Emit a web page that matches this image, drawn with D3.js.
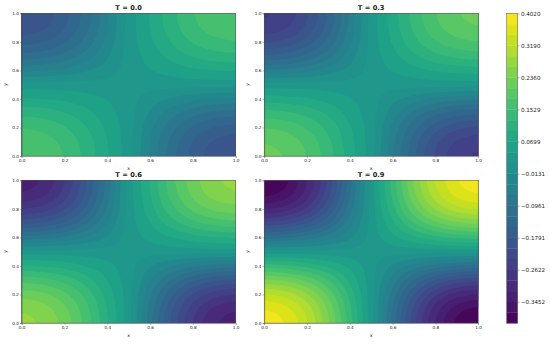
<!DOCTYPE html>
<html>
<head>
<meta charset="utf-8">
<script src="https://cdn.jsdelivr.net/npm/d3@7"></script>
<style>
  html, body { margin: 0; background: #fff; }
  svg { display: block; }
  text { font-family: "DejaVu Sans"; fill: #222; }
  .domain, .tick line { stroke: #444; stroke-width: 0.4; }
</style>
</head>
<body>
<svg id="chart" width="550" height="344"></svg>
<script>
// values, 11 x 11 samples, first row is y = 0
const gridPos = [0, 0.1, 0.2, 0.3, 0.4, 0.5, 0.6, 0.7, 0.8, 0.9, 1]

const fieldT00 = [
  [.180,.172,.151,.116,.073,.025,-.046,-.111,-.161,-.194,-.205],
  [.172,.165,.144,.112,.070,.025,-.042,-.104,-.152,-.182,-.194],
  [.151,.144,.127,.099,.064,.025,-.033,-.085,-.127,-.152,-.161],
  [.116,.112,.099,.079,.053,.025,-.016,-.056,-.085,-.104,-.111],
  [.073,.070,.064,.053,.041,.025,.002,-.016,-.033,-.042,-.046],
  [.025,.025,.025,.025,.025,.025,.025,.025,.025,.025,.025],
  [-.046,-.042,-.033,-.016,.002,.025,.041,.053,.064,.070,.073],
  [-.111,-.104,-.085,-.056,-.016,.025,.053,.079,.099,.112,.116],
  [-.161,-.152,-.127,-.085,-.033,.025,.064,.099,.127,.144,.151],
  [-.194,-.182,-.152,-.104,-.042,.025,.070,.112,.144,.165,.172],
  [-.205,-.194,-.161,-.111,-.046,.025,.073,.116,.151,.172,.180]
]
const fieldT03 = [
  [.215,.206,.179,.137,.084,.025,-.065,-.146,-.210,-.251,-.265],
  [.206,.196,.171,.131,.080,.025,-.059,-.137,-.198,-.236,-.251],
  [.179,.171,.150,.116,.073,.025,-.048,-.114,-.166,-.198,-.210],
  [.137,.131,.116,.092,.059,.025,-.027,-.077,-.114,-.137,-.146],
  [.084,.080,.073,.059,.044,.025,-.004,-.027,-.048,-.059,-.065],
  [.025,.025,.025,.025,.025,.025,.025,.025,.025,.025,.025],
  [-.065,-.059,-.048,-.027,-.004,.025,.044,.059,.073,.080,.084],
  [-.146,-.137,-.114,-.077,-.027,.025,.059,.092,.116,.131,.137],
  [-.210,-.198,-.166,-.114,-.048,.025,.073,.116,.150,.171,.179],
  [-.251,-.236,-.198,-.137,-.059,.025,.080,.131,.171,.196,.206],
  [-.265,-.251,-.210,-.146,-.065,.025,.084,.137,.179,.206,.215]
]
const fieldT06 = [
  [.270,.258,.223,.170,.101,.025,-.085,-.184,-.263,-.312,-.330],
  [.258,.246,.214,.162,.096,.025,-.078,-.174,-.248,-.295,-.312],
  [.223,.214,.187,.143,.086,.025,-.064,-.145,-.209,-.248,-.263],
  [.170,.162,.143,.111,.069,.025,-.039,-.099,-.145,-.174,-.184],
  [.101,.096,.086,.069,.050,.025,-.011,-.039,-.064,-.078,-.085],
  [.025,.025,.025,.025,.025,.025,.025,.025,.025,.025,.025],
  [-.085,-.078,-.064,-.039,-.011,.025,.050,.069,.086,.096,.101],
  [-.184,-.174,-.145,-.099,-.039,.025,.069,.111,.143,.162,.170],
  [-.263,-.248,-.209,-.145,-.064,.025,.086,.143,.187,.214,.223],
  [-.312,-.295,-.248,-.174,-.078,.025,.096,.162,.214,.246,.258],
  [-.330,-.312,-.263,-.184,-.085,.025,.101,.170,.223,.258,.270]
]
const fieldT09 = [
  [.390,.372,.321,.240,.138,.025,-.107,-.226,-.319,-.379,-.400],
  [.372,.354,.306,.229,.131,.025,-.098,-.213,-.302,-.358,-.379],
  [.321,.306,.266,.200,.116,.025,-.081,-.179,-.256,-.302,-.319],
  [.240,.229,.200,.153,.091,.025,-.052,-.124,-.179,-.213,-.226],
  [.138,.131,.116,.091,.062,.025,-.018,-.052,-.081,-.098,-.107],
  [.025,.025,.025,.025,.025,.025,.025,.025,.025,.025,.025],
  [-.107,-.098,-.081,-.052,-.018,.025,.062,.091,.116,.131,.138],
  [-.226,-.213,-.179,-.124,-.052,.025,.091,.153,.200,.229,.240],
  [-.319,-.302,-.256,-.179,-.081,.025,.116,.200,.266,.306,.321],
  [-.379,-.358,-.302,-.213,-.098,.025,.131,.229,.306,.354,.372],
  [-.400,-.379,-.319,-.226,-.107,.025,.138,.240,.321,.372,.390]
]

const panelTitles = ["T = 0.0", "T = 0.3", "T = 0.6", "T = 0.9"]
const panelFields = [fieldT00, fieldT03, fieldT06, fieldT09]
const axisTicks = [0, 0.2, 0.4, 0.6, 0.8, 1]
const barTicks = [0.4020, 0.3190, 0.2360, 0.1529, 0.0699, -0.0131, -0.0961, -0.1791, -0.2622, -0.3452]
const levelMin = -0.4006, levelMax = 0.4020, nLevels = 30

const levels = d3.range(nLevels).map(i => levelMin + i * (levelMax - levelMin) / (nLevels - 1))
const bandColor = k => d3.interpolateViridis((k + 0.5) / (nLevels - 1))

const svg = d3.select("#chart")
const panelW = 214, panelH = 142.8
const lefts = [21.7, 264.2], tops = [13.3, 180.3]

// smooth the samples for contouring, the way a fine mesh would look
const upsample = 10
const n = (gridPos.length - 1) * upsample + 1
function catmull(p0, p1, p2, p3, t) {
  return 0.5 * (2 * p1 + (p2 - p0) * t + (2 * p0 - 5 * p1 + 4 * p2 - p3) * t * t + (3 * p1 - p0 - 3 * p2 + p3) * t * t * t)
}
function fineGrid(f) {
  const m = f.length - 1
  const at = (j, i) => f[Math.max(0, Math.min(m, j))][Math.max(0, Math.min(m, i))]
  const out = new Float64Array(n * n)
  for (let r = 0; r < n; r++) {
    const j = Math.min(m - 1, Math.floor(r / upsample)), v = r / upsample - j
    for (let c = 0; c < n; c++) {
      const i = Math.min(m - 1, Math.floor(c / upsample)), u = c / upsample - i
      const col = [-1, 0, 1, 2].map(d => catmull(at(j + d, i - 1), at(j + d, i), at(j + d, i + 1), at(j + d, i + 2), u))
      out[r * n + c] = catmull(col[0], col[1], col[2], col[3], v)
    }
  }
  return out
}

panelFields.forEach((field, idx) => {
  const left = lefts[idx % 2], top = tops[Math.floor(idx / 2)]
  const x = d3.scaleLinear().domain([0, 1]).range([left, left + panelW])
  const y = d3.scaleLinear().domain([0, 1]).range([top + panelH, top])

  const clipId = "clip" + idx
  svg.append("clipPath").attr("id", clipId).append("rect")
    .attr("x", left).attr("y", top).attr("width", panelW).attr("height", panelH)

  const values = fineGrid(field)
  const contours = d3.contours().size([n, n])
  const path = d3.geoPath(d3.geoTransform({
    point(cx, cy) { this.stream.point(x((cx - 0.5) / (n - 1)), y((cy - 0.5) / (n - 1))) }
  }))

  const g = svg.append("g").attr("clip-path", `url(#${clipId})`)
  g.append("rect").attr("x", left).attr("y", top).attr("width", panelW).attr("height", panelH).attr("fill", bandColor(0))
  d3.range(nLevels - 1).forEach(k => {
    g.append("path").attr("d", path(contours.contour(values, levels[k]))).attr("fill", bandColor(k))
  })

  svg.append("g").attr("transform", `translate(0,${top + panelH})`)
    .call(d3.axisBottom(x).tickValues(axisTicks).tickFormat(d3.format(".1f")).tickSize(1.6).tickPadding(1.2))
    .call(s => s.selectAll("text").style("font-size", "4.2px"))
  svg.append("g").attr("transform", `translate(${left},0)`)
    .call(d3.axisLeft(y).tickValues(axisTicks).tickFormat(d3.format(".1f")).tickSize(1.6).tickPadding(1.2))
    .call(s => s.selectAll("text").style("font-size", "4.2px"))
  svg.append("rect").attr("x", left).attr("y", top).attr("width", panelW).attr("height", panelH)
    .attr("fill", "none").attr("stroke", "#555").attr("stroke-width", 0.5)

  svg.append("text").attr("x", left + panelW / 2).attr("y", top - 3)
    .attr("text-anchor", "middle").style("font-size", "6.7px").style("font-weight", "bold").text(panelTitles[idx])
  svg.append("text").attr("x", left + panelW / 2).attr("y", top + panelH + 13.5)
    .attr("text-anchor", "middle").style("font-size", "4.7px").text("x")
  svg.append("text").attr("transform", `translate(${left - 15.2},${top + panelH / 2}) rotate(-90)`)
    .attr("text-anchor", "middle").style("font-size", "4.7px").text("y")
})

// colour bar
const barX = 506.7, barW = 11
const barY = d3.scaleLinear().domain([levelMin, levelMax]).range([323.1, 13.3])
svg.append("g").selectAll("rect").data(d3.range(nLevels - 1)).join("rect")
  .attr("x", barX).attr("width", barW)
  .attr("y", k => barY(levels[k + 1]))
  .attr("height", k => barY(levels[k]) - barY(levels[k + 1]) + 0.3)
  .attr("fill", k => bandColor(k))
svg.append("g").attr("transform", `translate(${barX + barW},0)`)
  .call(d3.axisRight(barY).tickValues(barTicks).tickFormat(d => d3.format(".4f")(d).replace("-", "\u2212")).tickSize(1.8).tickPadding(1.4))
  .call(s => s.selectAll("text").style("font-size", "5.6px"))
  .call(s => s.select(".domain").remove())
svg.append("rect").attr("x", barX).attr("y", 13.3).attr("width", barW).attr("height", 309.8)
  .attr("fill", "none").attr("stroke", "#555").attr("stroke-width", 0.5)
</script>
</body>
</html>
